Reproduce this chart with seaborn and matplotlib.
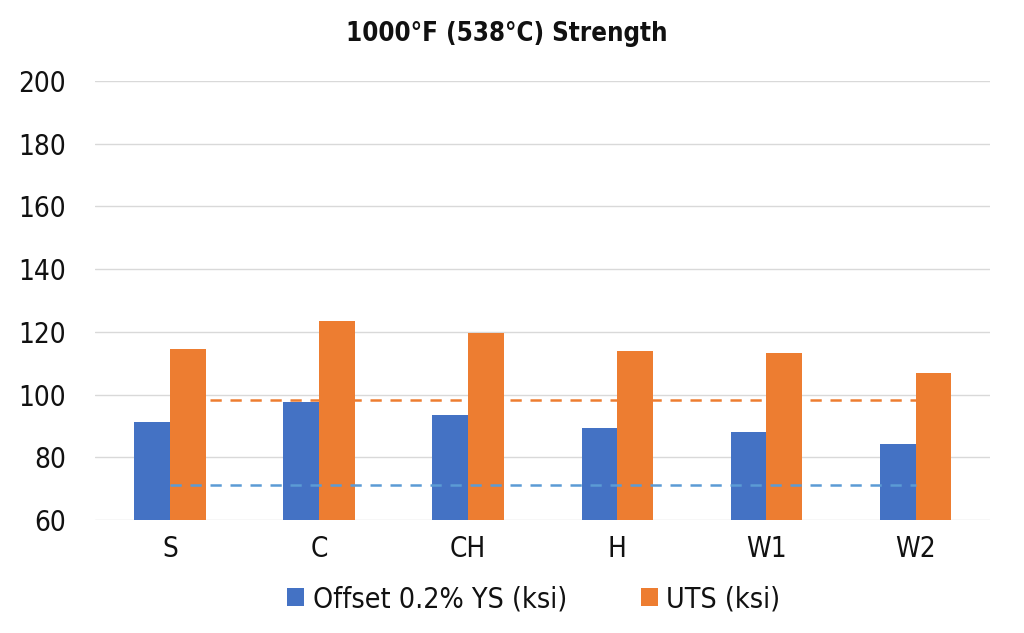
import pandas as pd
import seaborn as sns
import matplotlib.pyplot as plt

# dados
categorias = ["S", "C", "CH", "H", "W1", "W2"]
ys = [91.2, 97.6, 93.4, 89.2, 88.1, 84.2]
uts = [114.4, 123.4, 119.6, 113.8, 113.2, 106.9]
ys_min = 71.2
uts_min = 98.3
serie_ys = "Offset 0.2% YS (ksi)"
serie_uts = "UTS (ksi)"

df = pd.DataFrame({
    "Condicao": categorias * 2,
    "Valor": ys + uts,
    "Serie": [serie_ys] * len(ys) + [serie_uts] * len(uts),
})

sns.set_theme(style="white")
plt.rcParams["font.family"] = ["DejaVu Sans"]
plt.rcParams["font.stretch"] = "condensed"

fig = plt.figure(figsize=(10.24, 6.33), dpi=100)
ax = fig.add_axes([0.093, 0.1785, 0.874, 0.6935])

cores = {serie_ys: "#4472C4", serie_uts: "#ED7D31"}
sns.barplot(data=df, x="Condicao", y="Valor", hue="Serie", palette=cores,
            width=0.48, saturation=1, linewidth=0, ax=ax, zorder=2)

# linhas tracejadas (mínimos)
ax.hlines(uts_min, 0, len(categorias) - 1, colors="#ED7D31", linestyles=(0, (4.5, 3.5)),
          linewidth=1.8, zorder=3)
ax.hlines(ys_min, 0, len(categorias) - 1, colors="#5B9BD5", linestyles=(0, (4.5, 3.5)),
          linewidth=1.8, zorder=3)

ax.set_ylim(60, 200)
ax.set_xlim(-0.5, len(categorias) - 0.5)
ax.set_yticks(range(60, 201, 20))
ax.yaxis.grid(True, color="#D9D9D9", linewidth=1)
ax.set_axisbelow(True)
for s in ax.spines.values():
    s.set_visible(False)
ax.tick_params(axis="both", length=0, labelsize=20, colors="#111111")
ax.tick_params(axis="y", pad=21)
ax.tick_params(axis="x", pad=11)
ax.set_xlabel("")
ax.set_ylabel("")

fig.suptitle("1000°F (538°C) Strength", x=0.495, y=0.967, fontsize=18.5,
             fontweight="bold", color="#111111")

ax.legend(loc="upper center", bbox_to_anchor=(0.49, -0.09), ncol=2, frameon=False,
          fontsize=20.5, handlelength=0.6, handleheight=0.6, handletextpad=0.3,
          columnspacing=2.6, labelcolor="#111111")

plt.savefig("out.png", dpi=100)
